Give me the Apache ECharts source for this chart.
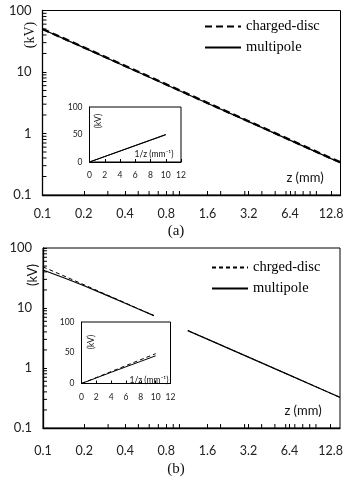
<!DOCTYPE html>
<html>
<head>
<meta charset="utf-8">
<script src="https://cdn.jsdelivr.net/npm/echarts@6/dist/echarts.min.js"></script>
<style>
html, body { margin: 0; padding: 0; background: #fff; }
#chart { width: 350px; height: 480px; }
</style>
</head>
<body>
<div id="chart"></div>
<script>
// panel (a): potential vs z
var zA = [0.1, 0.2, 0.4, 0.8, 1.6, 3.2, 6.4, 12.8, 15];
var discA = [50, 25.2, 12.6, 6.3, 3.15, 1.58, 0.79, 0.395, 0.34];
var multiA = [49.5, 24.9, 12.4, 6.2, 3.1, 1.56, 0.78, 0.39, 0.336];

// panel (b): '-' marks the break in the drawn curves
var zB = [0.1, 0.15, 0.2, 0.3, 0.4, 0.5, 0.65, 0.8, 1.15, 1.6, 3.2, 6.4, 12.8, 15];
var discB = [48.5, 32.5, 24.4, 16.2, 12.2, 9.7, 7.45, '-', 4.22, 3.03, 1.52, 0.76, 0.38, 0.324];
var multiB = [43, 30.5, 23.5, 15.9, 12, 9.6, 7.45, '-', 4.2, 3.03, 1.52, 0.76, 0.38, 0.324];

// insets: potential vs 1/z
var invZ = [0, 2, 4, 6, 8, 10];
var inDiscA = [0, 10, 20, 30, 40, 50];
var inMultiA = [0, 9.9, 19.8, 29.7, 39.6, 49.5];
var inDiscB = [0, 9.7, 19.4, 29.1, 38.8, 48.5];
var inMultiB = [0, 9.1, 18.2, 27.2, 36.1, 45];

// log minor tick positions
var xMinorTicks = [0.3, 0.5, 0.6, 0.7, 0.9, 1, 2, 3, 4, 5, 6, 7, 8, 9, 10];
var yMinorTicks = [0.2, 0.3, 0.4, 0.5, 0.6, 0.7, 0.8, 0.9,
	2, 3, 4, 5, 6, 7, 8, 9, 20, 30, 40, 50, 60, 70, 80, 90];

var pairs = function(xs, ys){
	var out = [];
	for (var i = 0; i < xs.length; i++) {
		out.push([xs[i], ys[i]]);
	}
	return out;
};

var sans = 'Lato';
var serif = 'Liberation Serif';

var mainX = function(gi, margin){
	return {
		type: 'log', logBase: 2, gridIndex: gi,
		min: 0.1, max: 15, interval: 1,
		axisLine: { lineStyle: { color: '#000', width: 1.3 } },
		axisTick: { inside: true, length: 4, lineStyle: { color: '#000' } },
		axisLabel: {
			margin: margin, fontFamily: sans, fontSize: 12.5, color: '#222',
			showMaxLabel: false,
			formatter: function(v){ return String(+v.toFixed(1)); }
		},
		splitLine: { show: false }
	};
};
var mainY = function(gi){
	return {
		type: 'log', logBase: 10, gridIndex: gi,
		min: 0.1, max: 100,
		axisLine: { lineStyle: { color: '#000', width: 1.3 } },
		axisTick: { inside: true, length: 4, lineStyle: { color: '#000' } },
		axisLabel: {
			margin: 11, fontFamily: sans, fontSize: 13, color: '#222',
			formatter: function(v){ return String(+v.toFixed(1)); }
		},
		splitLine: { show: false }
	};
};
var insetX = function(gi){
	return {
		type: 'value', gridIndex: gi, min: 0, max: 12, interval: 2,
		axisLine: { lineStyle: { color: '#000', width: 1 } },
		axisTick: { inside: true, length: 3, lineStyle: { color: '#000' } },
		axisLabel: { margin: 9, fontFamily: sans, fontSize: 8.5, color: '#222' },
		splitLine: { show: false }
	};
};
var insetY = function(gi){
	return {
		type: 'value', gridIndex: gi, min: 0, max: 100, interval: 50,
		axisLine: { lineStyle: { color: '#000', width: 1 } },
		axisTick: { show: false },
		axisLabel: { margin: 7, fontFamily: sans, fontSize: 8.5, color: '#222' },
		splitLine: { show: false }
	};
};

var tickSeries = function(ai, data, onY){
	return {
		type: 'custom', xAxisIndex: ai, yAxisIndex: ai,
		silent: true, animation: false,
		data: data,
		encode: { x: 0, y: 1 },
		renderItem: function(params, api){
			var p = api.coord([api.value(0), api.value(1)]);
			var shape = onY
				? { x1: p[0], y1: p[1], x2: p[0] + 4, y2: p[1] }
				: { x1: p[0], y1: p[1], x2: p[0], y2: p[1] - 4 };
			return { type: 'line', shape: shape, style: { stroke: '#000', lineWidth: 1 } };
		}
	};
};
var lineSeries = function(name, ai, data, width, dash){
	return {
		name: name, type: 'line', xAxisIndex: ai, yAxisIndex: ai,
		data: data, symbol: 'none', connectNulls: false, animation: false,
		lineStyle: { color: '#000', width: width, type: dash || 'solid' },
		itemStyle: { color: '#000' }
	};
};

var atX = function(vals){ return vals.map(function(v){ return [v, 0.1]; }); };
var atY = function(vals){ return vals.map(function(v){ return [0.1, v]; }); };

var txt = function(x, y, text, font, rot){
	return {
		type: 'text', x: x, y: y, rotation: rot || 0, z: 10,
		style: { text: text, font: font, fill: '#111', align: 'center', verticalAlign: 'middle' }
	};
};

var legendOf = function(left, top, names){
	return {
		left: left, top: top, orient: 'vertical', padding: 0,
		itemWidth: 36, itemHeight: 12, itemGap: 6,
		selectedMode: false, data: names,
		itemStyle: { color: 'transparent', borderWidth: 0, opacity: 0 },
		textStyle: { fontFamily: serif, fontSize: 14.5, color: '#000' }
	};
};

var myChart = echarts.init(document.getElementById('chart'));
var boxStyle = { show: true, borderColor: '#000', borderWidth: 1, backgroundColor: 'transparent' };
var insetStyle = { show: true, borderColor: '#000', borderWidth: 1, backgroundColor: '#fff' };

var option = {
	backgroundColor: '#fff',
	animation: false,
	grid: [
		Object.assign({ left: 42.5, top: 10.5, width: 298, height: 184.5 }, boxStyle),
		Object.assign({ left: 89.5, top: 107, width: 91.5, height: 55 }, insetStyle),
		Object.assign({ left: 43, top: 248, width: 297, height: 180 }, boxStyle),
		Object.assign({ left: 81.5, top: 322, width: 89, height: 61.5 }, insetStyle)
	],
	xAxis: [mainX(0, 12), insetX(1), mainX(2, 16), insetX(3)],
	yAxis: [mainY(0), insetY(1), mainY(2), insetY(3)],
	legend: [
		legendOf(204, 19, ['charged-disc', 'multipole']),
		legendOf(211, 260, ['chrged-disc', 'multipole'])
	],
	series: [
		lineSeries('multipole', 0, pairs(zA, multiA), 1.2),
		lineSeries('charged-disc', 0, pairs(zA, discA), 2.4, [7, 4]),
		lineSeries('inset a multipole', 1, pairs(invZ, inMultiA), 1),
		lineSeries('inset a disc', 1, pairs(invZ, inDiscA), 1),
		lineSeries('multipole b', 2, pairs(zB, multiB), 1.2),
		lineSeries('chrged-disc', 2, pairs(zB, discB), 1, [4, 3]),
		lineSeries('inset b multipole', 3, pairs(invZ, inMultiB), 1),
		lineSeries('inset b disc', 3, pairs(invZ, inDiscB), 1, [4, 3]),
		tickSeries(0, atX(xMinorTicks), false),
		tickSeries(0, atY(yMinorTicks), true),
		tickSeries(2, atX(xMinorTicks), false),
		tickSeries(2, atY(yMinorTicks), true)
	],
	graphic: [
		txt(30, 35, '(kV)', '14px "Liberation Serif"', Math.PI / 2),
		txt(33, 275, '(kV)', '13px Lato', Math.PI / 2),
		txt(305, 178, 'z (mm)', '13px Lato'),
		txt(303, 411, 'z (mm)', '13px Lato'),
		txt(98, 121, '(kV)', '8.5px Lato', Math.PI / 2),
		txt(91, 342, '(kV)', '8.5px Lato', Math.PI / 2),
		txt(154, 154, '1/z (mm\u207B\u00B9)', '8.5px Lato'),
		txt(149, 380, '1/z (mm\u207B\u00B9)', '8.5px Lato'),
		txt(176, 231, '(a)', '15px "Liberation Serif"'),
		txt(176, 469, '(b)', '15px "Liberation Serif"')
	]
};
myChart.setOption(option);
</script>
</body>
</html>
